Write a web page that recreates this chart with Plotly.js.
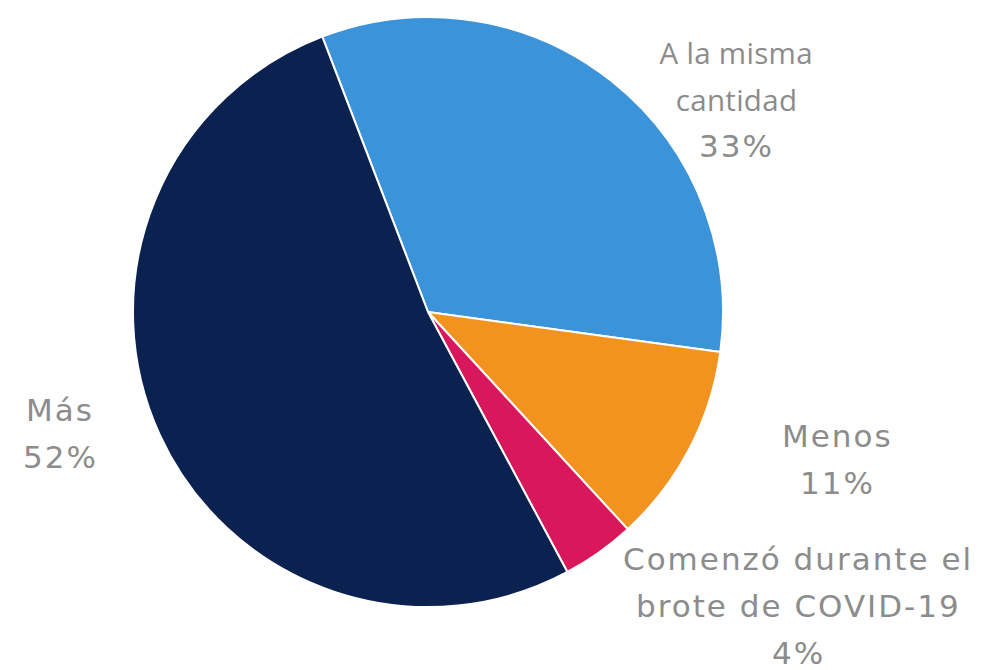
<!DOCTYPE html>
<html>
<head>
<meta charset="utf-8">
<script src="https://cdn.plot.ly/plotly-3.0.1.min.js"></script>
<style>
html,body{margin:0;padding:0;background:#fff;}
#chart{width:984px;height:670px;}
</style>
</head>
<body>
<div id="chart"></div>
<script>
const labels = ['A la misma cantidad', 'Menos', 'Comenzó durante el brote de COVID-19', 'Más'];
const values = [33, 11, 4, 52];
const labelLines = [['A la misma', 'cantidad'], ['Menos'], ['Comenzó durante el', 'brote de COVID-19'], ['Más']];
const colors = ['#3b94d9', '#f3931f', '#d9175b', '#0b2150'];

// label anchor positions (pixels: x center, y of first line) and line spacing
const labelPos = [[736, 52], [837, 436], [798, 559], [60, 410]];
const lineGap = 47;
const W = 984, H = 670;

const wideFont = {family: 'DejaVu Sans, sans-serif', size: 31, color: '#8c8c8c'};
const narrowFont = {family: 'Open Sans, sans-serif', size: 29.5, color: '#8c8c8c'};

const annotations = [];
const spacing = [];
labels.forEach((lab, i) => {
  const lines = labelLines[i].concat([values[i] + '%']);
  lines.forEach((ln, j) => {
    const isPct = j === lines.length - 1;
    const narrow = (i === 0 && !isPct);
    annotations.push({
      x: labelPos[i][0] / W, y: 1 - (labelPos[i][1] + j * lineGap) / H,
      xref: 'paper', yref: 'paper', xanchor: 'center', yanchor: 'middle',
      showarrow: false, text: ln,
      font: narrow ? narrowFont : wideFont
    });
    spacing.push(narrow ? '0.3px' : '2px');
  });
});

const cx = 428, cy = 312, r = 295;
const data = [{
  type: 'pie',
  labels: labels,
  values: values,
  sort: false,
  direction: 'clockwise',
  rotation: -21,
  textinfo: 'none',
  hoverinfo: 'label+percent',
  marker: {colors: colors, line: {color: '#ffffff', width: 2}},
  domain: {x: [(cx - r) / W, (cx + r) / W], y: [(H - cy - r) / H, (H - cy + r) / H]}
}];

const layout = {
  width: W, height: H,
  margin: {l: 0, r: 0, t: 0, b: 0},
  paper_bgcolor: '#ffffff',
  showlegend: false,
  annotations: annotations
};

Plotly.newPlot('chart', data, layout, {displayModeBar: false, staticPlot: true}).then(gd => {
  gd.querySelectorAll('.annotation').forEach(g => {
    const idx = +g.getAttribute('data-index');
    const t = g.querySelector('.annotation-text');
    if (t && spacing[idx]) t.style.letterSpacing = spacing[idx];
  });
});
</script>
</body>
</html>
